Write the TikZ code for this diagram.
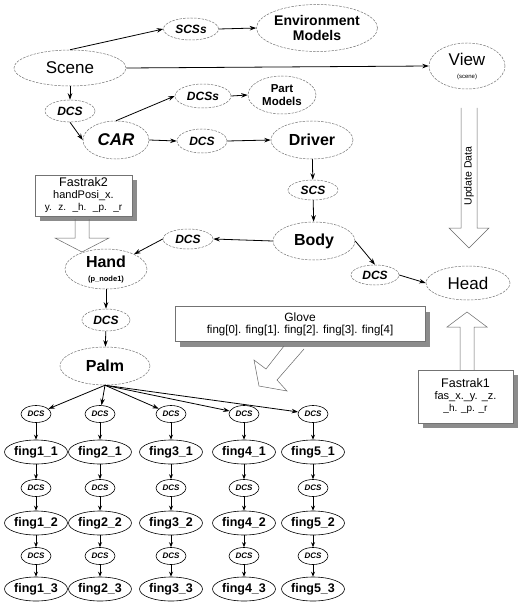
\documentclass[tikz,border=0pt]{standalone}
\usepackage{fontspec}
\setmainfont{Liberation Sans}
\usepackage{graphicx}
\usetikzlibrary{shapes.geometric,arrows.meta,patterns,shadows}
\newcommand\fsz[2]{\fontsize{#1}{#2}\selectfont}
\begin{document}
\begin{tikzpicture}[x=1pt,y=-1pt,
  tel/.style={ellipse, inner sep=0pt, draw=black!55, line width=0.5pt, dash pattern=on 2.5pt off 1.2pt, align=center},
  bel/.style={ellipse, inner sep=0pt, draw=black, line width=0.6pt},
  con/.style={draw=black, line width=0.8pt, -{Stealth[length=6.5pt,width=4.5pt]}},
  scon/.style={draw=black, line width=0.8pt, -{Stealth[length=5pt,width=4pt]}},
  bx/.style={rectangle, draw=black!55, line width=0.5pt, fill=white, align=center, inner sep=0pt,
     general shadow={shadow xshift=5pt, shadow yshift=-5pt, fill=black!45}},
  hollow/.style={draw=black!60, line width=0.5pt},
  bi/.style={font=\bfseries\itshape\fsz{12}{14}},
  fdcs/.style={bel, minimum width=30, minimum height=17, font=\bfseries\itshape\fsz{8}{9}},
  fing/.style={bel, minimum width=63, minimum height=24, font=\bfseries\fsz{12.5}{14}},
]
\useasboundingbox (0,0) rectangle (518,604);
% upper part
\node[tel, minimum width=55, minimum height=22, bi] (scss) at (191,29) {SCSs};
\node[tel, minimum width=113, minimum height=47, font=\bfseries\fsz{14}{15}] (env) at (317,28) {Environment\\Models};
\node[tel, minimum width=112, minimum height=36, font=\fsz{17}{19}] (scene) at (70,68) {Scene};
\node[tel, minimum width=76, minimum height=46] (view) at (467,66) {\fsz{17}{17}View\\[1pt]\fsz{6}{6}(scene)};
\node[tel, minimum width=50, minimum height=22, bi] (dcs0) at (70,111) {DCS};
\node[tel, minimum width=56, minimum height=24, bi] (dcss) at (203,96) {DCSs};
\node[tel, minimum width=68, minimum height=38, font=\bfseries\fsz{11.5}{12.5}] (parts) at (282,95) {Part\\Models};
\node[tel, minimum width=66, minimum height=38, font=\bfseries\itshape\fsz{17}{19}] (car) at (116,140) {CAR};
\node[tel, minimum width=50, minimum height=24, bi] (dcs1) at (202,141) {DCS};
\node[tel, minimum width=82, minimum height=38, font=\bfseries\fsz{16}{18}] (driver) at (312,140) {Driver};
\node[tel, minimum width=50, minimum height=20, bi] (scs) at (313,190) {SCS};
\node[tel, minimum width=82, minimum height=38, font=\bfseries\fsz{16}{18}] (body) at (314,241) {Body};
\node[tel, minimum width=50, minimum height=20, bi] (dcsL) at (188,239) {DCS};
\node[tel, minimum width=48, minimum height=20, bi] (dcsR) at (375,275) {DCS};
\node[tel, minimum width=84, minimum height=34, font=\fsz{17}{19}] (head) at (468,283) {Head};
\node[tel, minimum width=82, minimum height=40, font=\bfseries] (hand) at (106,269) {\fsz{16}{16}Hand\\[2pt]\fsz{7.5}{7.5}(p\_node1)};
\node[tel, minimum width=48, minimum height=22, bi] (dcsH) at (106,320) {DCS};
\node[tel, minimum width=90, minimum height=38, font=\bfseries\fsz{16}{18}] (palm) at (105,366) {Palm};
% boxes
\node[bx, minimum width=97, minimum height=41] (fas2) at (83.5,195.5) {\fsz{12.5}{13}Fastrak2\\\fsz{11}{11.5}handPosi\_x.\\y. \ z. \ \_h. \ \_p. \ \_r};
\node[bx, minimum width=250, minimum height=35] (glove) at (300,324) {\fsz{12}{13}Glove\\\fsz{11.5}{12}fing[0]. fing[1]. fing[2]. fing[3]. fing[4]};
\node[bx, minimum width=95, minimum height=53] (fas1) at (465.5,396.5) {\fsz{12.5}{13}Fastrak1\\\fsz{11}{12.5}fas\_x.\_y. \_z.\\\_h. \_p. \_r};
% hollow arrows
\draw[hollow] (75,219) -- (75,238) -- (55,238) -- (82,252) -- (109,238) -- (89,238) -- (89,219);
\draw[hollow] (461,108) -- (461,228) -- (449,228) -- (469,248) -- (489,228) -- (477,228) -- (477,108);
\node[rotate=90, font=\fsz{10.5}{12}] (upd) at (469,176) {Update Data};
\draw[hollow] (460,370) -- (460,327) -- (447,327) -- (467,312) -- (487,327) -- (474,327) -- (474,370);
\draw[hollow] (284,346) -- (266,369) -- (254,360) -- (259,386) -- (287,391) -- (277,380) -- (304,349);
% connectors
\draw[con] (scene.north) -- (scss.west);
\draw[con] (scss.east) -- (env.west);
\draw[con] (scene.east) -- (view.west);
\draw[con] (scene) -- (dcs0);
\draw[con] (dcs0.south) -- (car.west);
\draw[con] (car.north) -- (dcss.west);
\draw[con] (dcss.east) -- (parts.west);
\draw[con] (car.east) -- (dcs1.west);
\draw[con] (dcs1.east) -- (driver.west);
\draw[con] (driver) -- (scs);
\draw[con] (scs) -- (body);
\draw[con] (body.west) -- (dcsL.east);
\draw[con] (dcsL.west) -- (hand);
\draw[con] (body.east) -- (dcsR.north);
\draw[con] (dcsR.east) -- (head.west);
\draw[con] (hand) -- (dcsH);
\draw[con] (dcsH) -- (palm);
% fingers
\foreach \c/\x in {1/36,2/100,3/171,4/244,5/313}{
  \node[fdcs] (d\c1) at (\x,414) {DCS};
  \node[fing] (f\c1) at (\x,452) {fing\c\_1};
  \node[fdcs] (d\c2) at (\x,488) {DCS};
  \node[fing] (f\c2) at (\x,523) {fing\c\_2};
  \node[fdcs] (d\c3) at (\x,556) {DCS};
  \node[fing] (f\c3) at (\x,589) {fing\c\_3};
  \draw[con] (palm.south) -- (d\c1);
  \draw[scon] (d\c1) -- (f\c1);
  \draw[scon] (f\c1) -- (d\c2);
  \draw[scon] (d\c2) -- (f\c2);
  \draw[scon] (f\c2) -- (d\c3);
  \draw[scon] (d\c3) -- (f\c3);
}
\end{tikzpicture}
\end{document}
